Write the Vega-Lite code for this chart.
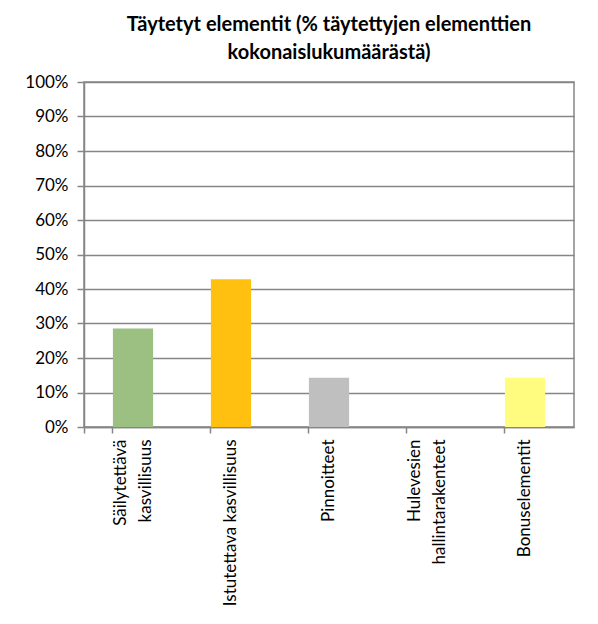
{
  "$schema": "https://vega.github.io/schema/vega-lite/v6.json",
  "autosize": {"type": "none"},
  "padding": {"left": 84, "top": 82, "right": 24, "bottom": 197},
  "width": 490,
  "height": 345,
  "background": "white",
  "title": {
    "text": ["Täytetyt elementit (% täytettyjen elementtien", "kokonaislukumäärästä)"],
    "font": "Lato",
    "fontSize": 20,
    "fontWeight": "bold",
    "color": "black",
    "anchor": "middle",
    "frame": "group",
    "lineHeight": 28,
    "offset": 10
  },
  "data": {
    "values": [
      {"kategoria": "Säilytettävä\nkasvillisuus", "osuus": 0.2857},
      {"kategoria": "Istutettava kasvillisuus", "osuus": 0.4286},
      {"kategoria": "Pinnoitteet", "osuus": 0.1429},
      {"kategoria": "Hulevesien\nhallintarakenteet", "osuus": 0},
      {"kategoria": "Bonuselementit", "osuus": 0.1429}
    ]
  },
  "layer": [
    {
      "mark": {"type": "bar"},
      "encoding": {
        "x": {
          "field": "kategoria",
          "type": "nominal",
          "sort": null,
          "scale": {"paddingInner": 0.59, "paddingOuter": 0.295},
          "axis": {
            "title": null,
            "orient": "bottom",
            "ticks": false,
            "domain": false,
            "labelAngle": -90,
            "labelAlign": "right",
            "labelBaseline": "middle",
            "labelPadding": 12,
            "labelFont": "Lato",
            "labelFontSize": 17,
            "labelColor": "black",
            "labelLineHeight": 25,
            "labelExpr": "split(datum.label, '\\n')",
            "labelLimit": 400,
            "labelOffset": {"condition": {"test": "indexof(datum.value, '\\n') >= 0", "value": -12.5}, "value": 0}
          }
        },
        "y": {
          "field": "osuus",
          "type": "quantitative",
          "scale": {"domain": [0, 1]},
          "axis": {
            "title": null,
            "values": [0, 0.1, 0.2, 0.3, 0.4, 0.5, 0.6, 0.7, 0.8, 0.9, 1],
            "labelOverlap": false,
            "format": ".0%",
            "grid": true,
            "gridColor": "#868686",
            "gridWidth": 1.5,
            "domainColor": "#868686",
            "domainWidth": 1.5,
            "tickColor": "#868686",
            "tickSize": 7,
            "tickWidth": 1.5,
            "labelFont": "Lato",
            "labelFontSize": 17,
            "labelColor": "black",
            "labelPadding": 9
          }
        },
        "color": {
          "field": "kategoria",
          "type": "nominal",
          "sort": null,
          "scale": {"range": ["#9CBF82", "#FFC010", "#BFBFBF", "#FFFFFF", "#FFFC80"]},
          "legend": null
        }
      }
    },
    {
      "mark": {"type": "rule", "opacity": 0},
      "encoding": {
        "x": {
          "field": "kategoria",
          "type": "nominal",
          "sort": null,
          "axis": {
            "title": null,
            "orient": "bottom",
            "labels": false,
            "bandPosition": 0,
            "tickExtra": true,
            "ticks": true,
            "tickColor": "#868686",
            "tickSize": 6,
            "tickWidth": 1.5,
            "domain": true,
            "domainColor": "#868686",
            "domainWidth": 1.5
          }
        }
      }
    }
  ],
  "resolve": {"axis": {"x": "independent"}},
  "config": {
    "view": {"stroke": "#868686", "strokeWidth": 1.5},
    "axis": {"grid": false}
  }
}
